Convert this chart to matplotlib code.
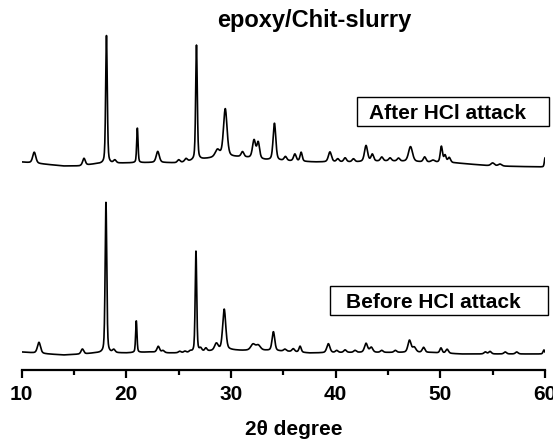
import numpy as np
import matplotlib.pyplot as plt
from matplotlib.patches import Rectangle

plt.rcParams['font.family'] = ['Liberation Sans', 'DejaVu Sans']
plt.rcParams['font.weight'] = 'bold'

# peaks: position (2theta), height, FWHM (degree)
after_pos = [11.2, 15.95, 18.1, 18.9, 21.05, 23.0, 25.0, 25.7, 26.7, 28.7, 29.45,
             31.1, 32.2, 32.6, 34.15, 35.2, 36.1, 36.7, 39.45, 40.2, 40.9, 41.7,
             42.9, 43.5, 44.4, 45.2, 46.0, 47.15, 48.5, 49.3, 50.1, 50.45, 50.85,
             55.0, 55.7, 60.0]
after_h = [11, 7, 128, 3, 35, 11, 3, 3, 115, 7, 48,
           5, 18, 16, 37, 4, 7, 9, 10, 3, 4, 3,
           16, 7, 4, 3, 3, 15, 5, 2, 16, 7, 5,
           3, 2, 9]
after_w = [0.35, 0.3, 0.18, 0.3, 0.15, 0.35, 0.3, 0.3, 0.18, 0.5, 0.4,
           0.3, 0.35, 0.3, 0.3, 0.3, 0.3, 0.25, 0.35, 0.3, 0.3, 0.3,
           0.35, 0.3, 0.3, 0.3, 0.3, 0.45, 0.3, 0.4, 0.25, 0.25, 0.3,
           0.4, 0.4, 0.15]
# background level read at a few angles
after_bg_x = [10, 12, 14, 15.5, 17, 20, 23, 25, 27.5, 29, 31, 33.3, 35.5, 38, 42, 45, 48, 51.5, 55, 60]
after_bg_y = [1, -1, -3, -3, -1, 0, 0.5, 0, 4, 6, 6, 3, 2, 1, 1, 2, 1, 0, -3, -4]

before_pos = [11.65, 15.8, 18.05, 18.8, 20.95, 23.05, 23.5, 25.1, 25.6, 26.1, 26.65,
              27.1, 27.6, 28.6, 29.35, 32.1, 32.6, 34.05, 35.15, 35.95, 36.6,
              39.3, 40.1, 40.9, 41.85, 42.9, 43.4, 44.4, 45.7, 47.05, 47.5, 48.4,
              50.06, 50.65, 54.3, 54.75, 56.2, 57.3, 59.9]
before_h = [11, 5, 152, 3, 32, 6, 2, 1.5, 1.5, 1.5, 102,
            3, 3, 7, 41, 6, 5, 19, 2, 3, 6,
            9, 2, 2.5, 2, 9, 5, 2, 2, 12, 5, 5,
            5, 4, 2, 2.5, 2, 2, 4]
before_w = [0.35, 0.3, 0.18, 0.3, 0.15, 0.3, 0.3, 0.3, 0.3, 0.3, 0.17,
            0.25, 0.25, 0.4, 0.35, 0.5, 0.5, 0.3, 0.3, 0.3, 0.25,
            0.35, 0.3, 0.3, 0.3, 0.35, 0.35, 0.3, 0.3, 0.35, 0.4, 0.3,
            0.25, 0.3, 0.3, 0.3, 0.3, 0.3, 0.2]
before_bg_x = [10, 12.5, 14, 16, 17, 20, 22.3, 24, 26, 27.5, 29.9, 31, 33.3, 35.5, 37.5, 41, 45, 49, 52, 60]
before_bg_y = [0, -2, -3, -2, -1, -1, 0, -1, -1, 0.5, 2, 1.5, 1.5, 0.5, -1, -0.5, -0.5, -0.5, -2, -2]

after_offset = 189

theta = np.linspace(10, 60, 2501)


def pattern(pos, h, w, bg_x, bg_y):
    y = np.interp(theta, bg_x, bg_y)
    for p, a, fw in zip(pos, h, w):
        g = np.exp(-4 * np.log(2) * ((theta - p) / fw) ** 2)
        l = 1 / (1 + 4 * ((theta - p) / fw) ** 2)
        y = y + a * (0.6 * g + 0.4 * l)
    return y


fig = plt.figure(figsize=(5.53, 4.43), dpi=100)
ax = fig.add_axes([21.7 / 553, 73 / 443, 523.3 / 553, 340 / 443])

ax.plot(theta, pattern(before_pos, before_h, before_w, before_bg_x, before_bg_y),
        color='black', lw=1.2)
ax.plot(theta, after_offset + pattern(after_pos, after_h, after_w, after_bg_x, after_bg_y),
        color='black', lw=1.2)

ax.set_xlim(10, 60)
ax.set_ylim(-18, 322)
ax.set_xticks(range(10, 61, 10))
ax.set_xticks(range(15, 60, 10), minor=True)
ax.set_yticks([])
for s in ['left', 'right', 'top']:
    ax.spines[s].set_visible(False)
ax.spines['bottom'].set_linewidth(1.6)
ax.tick_params(axis='x', which='major', length=6, width=1.6, labelsize=15, pad=5)
ax.tick_params(axis='x', which='minor', length=3.5, width=1.6)

fig.text(314 / 553, 1 - 27 / 443, 'epoxy/Chit-slurry', ha='center', va='baseline',
         fontsize=17, fontweight='bold')
fig.text(294 / 553, 1 - 435 / 443, '2θ degree', ha='center', va='baseline',
         fontsize=15, fontweight='bold')

# labelled boxes
fig.add_artist(Rectangle((357 / 553, 1 - 126 / 443), 192 / 553, 29 / 443,
                         transform=fig.transFigure, fill=False, lw=1.0, ec='black'))
fig.text(369 / 553, 1 - 119 / 443, 'After HCl attack', ha='left', va='baseline',
         fontsize=15, fontweight='bold')
fig.add_artist(Rectangle((330 / 553, 1 - 315 / 443), 218 / 553, 29 / 443,
                         transform=fig.transFigure, fill=False, lw=1.0, ec='black'))
fig.text(346 / 553, 1 - 308 / 443, 'Before HCl attack', ha='left', va='baseline',
         fontsize=15, fontweight='bold')

fig.savefig('out.png', dpi=100)
